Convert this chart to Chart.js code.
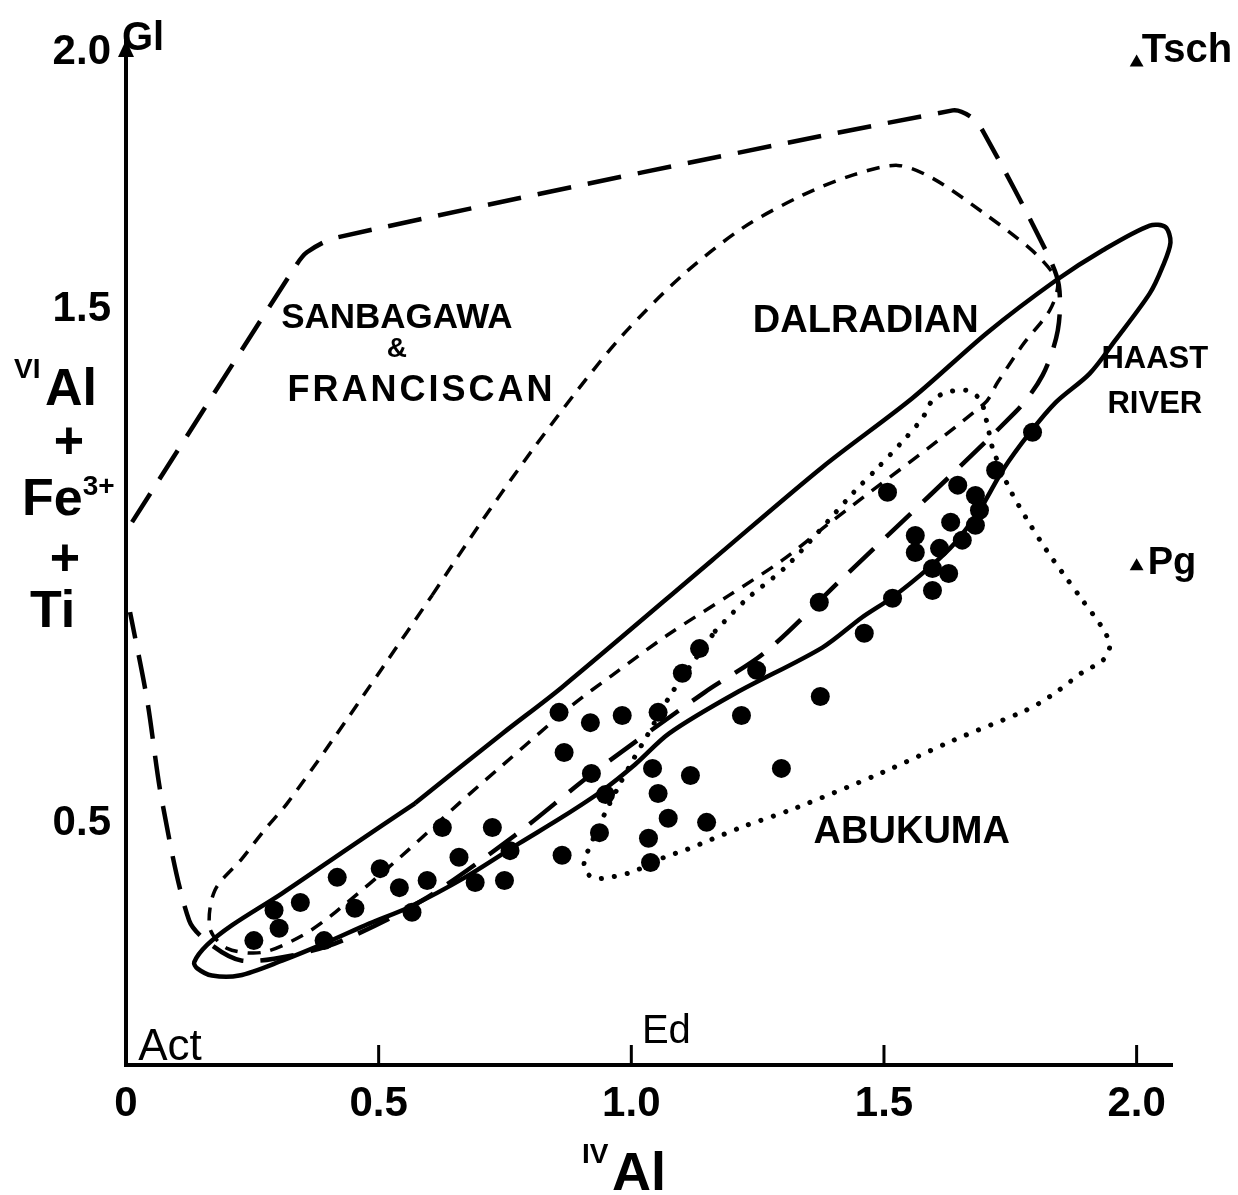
<!DOCTYPE html>
<html>
<head>
<meta charset="utf-8">
<script src="https://cdn.jsdelivr.net/npm/chart.js@4.4.1/dist/chart.umd.min.js"></script>
<style>
  html, body { margin: 0; padding: 0; background: #fff; }
  #wrap { width: 1238px; height: 1195px; }
</style>
</head>
<body>
<div id="wrap"><canvas id="amph" width="1238" height="1195"></canvas></div>
<script>
// IVAl vs VIAl + Fe3+ + Ti in calcic amphiboles, field outlines by terrane

// Haast River schists (solid outline)
const haastRiver = [[0.572,0.539],[0.745,0.675],[0.863,0.765],[1.160,1.012],[1.378,1.193],[1.556,1.327],
  [1.705,1.455],[1.840,1.556],[1.933,1.615],[2.026,1.663],[2.057,1.660],[2.067,1.630],[2.051,1.582],
  [2.026,1.531],[1.958,1.440],[1.907,1.375],[1.840,1.319],[1.788,1.259],[1.735,1.187],[1.689,1.109],
  [1.640,1.045],[1.590,0.998],[1.517,0.940],[1.457,0.901],[1.378,0.842],[1.206,0.753],[1.075,0.675],
  [1.008,0.615],[0.943,0.564],[0.863,0.512],[0.778,0.461],[0.671,0.395],[0.560,0.337],[0.481,0.305],
  [0.394,0.267],[0.309,0.233],[0.224,0.204],[0.170,0.204],[0.141,0.218],[0.135,0.230],[0.160,0.263],
  [0.210,0.302],[0.309,0.364],[0.442,0.453],[0.572,0.539]];

// Sanbagawa & Franciscan (long dashes), open at the vertical axis
const sanbagawa = [[0.012,1.086],[0.333,1.580],[0.358,1.611],[0.418,1.640],[1.636,1.887],[1.671,1.875],
  [1.695,1.848],[1.820,1.615],[1.846,1.547],[1.844,1.459],[1.814,1.372],[1.760,1.300],[1.414,0.973],
  [1.265,0.833],[1.145,0.755],[0.923,0.597],[0.770,0.477],[0.586,0.350],[0.428,0.272],[0.329,0.243],
  [0.230,0.233],[0.170,0.263],[0.125,0.311],[0.071,0.545],[0.042,0.739],[0.008,0.911]];

// Dalradian (short dashes)
const dalradian = [[0.606,0.944],[0.705,1.089],[0.804,1.226],[0.893,1.342],[0.982,1.449],[1.101,1.566],
  [1.220,1.658],[1.339,1.722],[1.438,1.761],[1.527,1.780],[1.596,1.755],[1.695,1.689],[1.788,1.619],
  [1.830,1.576],[1.844,1.547],[1.828,1.498],[1.774,1.430],[1.725,1.358],[1.699,1.317],[1.392,1.084],
  [1.299,1.012],[1.194,0.944],[1.071,0.866],[0.962,0.788],[0.883,0.730],[0.745,0.613],[0.659,0.539],
  [0.547,0.438],[0.414,0.327],[0.349,0.282],[0.269,0.249],[0.200,0.257],[0.166,0.296],[0.176,0.370],
  [0.230,0.432],[0.273,0.486],[0.319,0.539],[0.408,0.661],[0.507,0.802],[0.606,0.944]];

// Abukuma (dotted)
const abukuma = [[1.166,0.874],[1.228,0.936],[1.309,1.002],[1.442,1.146],[1.485,1.189],[1.533,1.239],
  [1.576,1.288],[1.596,1.323],[1.626,1.339],[1.665,1.342],[1.691,1.323],[1.705,1.274],[1.715,1.230],
  [1.747,1.154],[1.782,1.093],[1.822,1.031],[1.853,0.988],[1.893,0.934],[1.933,0.879],[1.947,0.846],
  [1.933,0.817],[1.893,0.794],[1.846,0.759],[1.806,0.733],[1.772,0.716],[1.636,0.661],[1.497,0.599],
  [1.323,0.529],[1.222,0.494],[1.109,0.449],[1.065,0.434],[1.000,0.405],[0.941,0.393],[0.919,0.397],
  [0.907,0.416],[0.909,0.434],[0.947,0.518],[0.976,0.574],[1.006,0.628],[1.028,0.665],[1.081,0.755],
  [1.166,0.874]];

// analysed amphiboles (filled circles)
const samples = [[0.253,0.272],[0.293,0.331],[0.345,0.346],[0.303,0.296],[0.418,0.395],[0.453,0.335],
  [0.503,0.412],[0.541,0.375],[0.596,0.389],[0.566,0.327],[0.392,0.272],[0.626,0.492],[0.725,0.492],
  [0.659,0.434],[0.691,0.385],[0.749,0.389],[0.760,0.447],
  [0.857,0.716],[0.919,0.696],[0.982,0.710],[1.053,0.716],[1.101,0.792],[1.135,0.840],[0.867,0.638],
  [0.921,0.597],[0.949,0.556],[0.937,0.482],[0.863,0.438],[1.042,0.607],[1.053,0.558],[1.073,0.510],
  [1.149,0.502],[1.117,0.593],[1.034,0.471],[1.038,0.424],[1.218,0.710],[1.297,0.607],[1.248,0.798],
  [1.374,0.747],[1.372,0.930],[1.461,0.870],
  [1.517,0.938],[1.507,1.144],[1.562,1.060],[1.562,1.027],[1.610,1.035],[1.596,0.996],[1.628,0.986],
  [1.596,0.953],[1.632,1.086],[1.646,1.158],[1.681,1.138],[1.689,1.109],[1.681,1.080],[1.655,1.051],
  [1.721,1.187],[1.794,1.261]];

// end-member compositions shown as triangles
const triangles = [[2.0,1.98],[2.0,1.0]];

const xTicks = [0, 0.5, 1.0, 1.5, 2.0];
const xMarks = [0.5, 1.0, 1.5, 2.0];
const yTicks = [0.5, 1.5, 2.0];

// name labels (anchor in axis units, left or centred)
const fieldNames = [
  { text: 'SANBAGAWA', x: 0.536, y: 1.463, size: 35 },
  { text: '&', x: 0.536, y: 1.407, size: 28 },
  { text: 'FRANCISCAN', x: 0.585, y: 1.321, size: 36, spacing: '3px' },
  { text: 'DALRADIAN', x: 1.464, y: 1.455, size: 38 },
  { text: 'HAAST', x: 2.036, y: 1.385, size: 31 },
  { text: 'RIVER', x: 2.036, y: 1.298, size: 31 },
  { text: 'ABUKUMA', x: 1.555, y: 0.461, size: 38 }
];
const endMembers = [
  { text: 'Gl', x: -0.008, y: 2.004, size: 40, weight: 'bold' },
  { text: 'Act', x: 0.024, y: 0.039, size: 44, weight: 'normal' },
  { text: 'Ed', x: 1.021, y: 0.072, size: 40, weight: 'normal' },
  { text: 'Tsch', x: 2.010, y: 1.981, size: 40, weight: 'bold' },
  { text: 'Pg', x: 2.022, y: 0.986, size: 38, weight: 'bold' }
];

const FONT = '"Liberation Sans", Arial, sans-serif';
const toXY = pts => pts.map(p => ({ x: p[0], y: p[1] }));

function outline(label, pts, dash, width, cap) {
  return {
    label: label,
    data: toXY(pts),
    showLine: true,
    fill: false,
    borderColor: '#000',
    borderWidth: width,
    borderDash: dash,
    borderCapStyle: cap || 'butt',
    borderJoinStyle: 'round',
    tension: 0.3,
    pointRadius: 0,
    clip: false
  };
}

function put(ctx, text, px, py, size, weight, align) {
  ctx.font = weight + ' ' + size + 'px ' + FONT;
  ctx.textAlign = align || 'left';
  ctx.fillText(text, px, py);
}

const decorations = {
  id: 'decorations',
  afterDraw(chart) {
    const ctx = chart.ctx, a = chart.chartArea;
    const x = chart.scales.x, y = chart.scales.y;
    ctx.save();
    ctx.fillStyle = '#000';
    ctx.strokeStyle = '#000';
    ctx.textBaseline = 'alphabetic';

    // arrow head on top of the vertical axis
    ctx.beginPath();
    ctx.moveTo(a.left, a.top - 2);
    ctx.lineTo(a.left - 8, a.top + 15);
    ctx.lineTo(a.left + 8, a.top + 15);
    ctx.closePath();
    ctx.fill();

    // tick marks point up into the plot
    ctx.lineWidth = 3;
    xMarks.forEach(v => {
      const px = x.getPixelForValue(v);
      ctx.beginPath();
      ctx.moveTo(px, a.bottom);
      ctx.lineTo(px, a.bottom - 20);
      ctx.stroke();
    });

    fieldNames.forEach(n => {
      ctx.letterSpacing = n.spacing || '0px';
      put(ctx, n.text, x.getPixelForValue(n.x), y.getPixelForValue(n.y), n.size, 'bold', 'center');
    });
    ctx.letterSpacing = '0px';
    endMembers.forEach(n => {
      put(ctx, n.text, x.getPixelForValue(n.x), y.getPixelForValue(n.y), n.size, n.weight, 'left');
    });

    // vertical axis title: VIAl + Fe3+ + Ti
    put(ctx, 'VI', 14, 378, 28, 'bold');
    put(ctx, 'Al', 45, 405, 52, 'bold');
    put(ctx, '+', 69, 458, 52, 'bold', 'center');
    put(ctx, 'Fe', 22, 515, 52, 'bold');
    ctx.font = 'bold 52px ' + FONT;
    const feW = ctx.measureText('Fe').width;
    put(ctx, '3+', 22 + feW, 495, 28, 'bold');
    put(ctx, '+', 65, 575, 52, 'bold', 'center');
    put(ctx, 'Ti', 30, 627, 52, 'bold');

    // horizontal axis title: IVAl
    put(ctx, 'IV', 582, 1163, 28, 'bold');
    put(ctx, 'Al', 612, 1190, 54, 'bold');

    ctx.restore();
  }
};

new Chart(document.getElementById('amph'), {
  type: 'scatter',
  data: {
    datasets: [
      outline('Haast River', haastRiver, [], 4.5),
      outline('Sanbagawa & Franciscan', sanbagawa, [34, 17], 4.5),
      outline('Dalradian', dalradian, [13, 10], 3.5),
      outline('Abukuma', abukuma, [0.1, 13], 5, 'round'),
      {
        label: 'amphiboles',
        data: toXY(samples),
        pointRadius: 9.5,
        pointBackgroundColor: '#000',
        pointBorderWidth: 0,
        clip: false
      },
      {
        label: 'end members',
        data: toXY(triangles),
        pointStyle: 'triangle',
        pointRadius: 8,
        pointBackgroundColor: '#000',
        pointBorderWidth: 0,
        clip: false
      }
    ]
  },
  options: {
    responsive: false,
    animation: false,
    events: [],
    layout: { padding: { top: 42, right: 66, bottom: 0, left: 0 } },
    plugins: { legend: { display: false }, tooltip: { enabled: false } },
    scales: {
      x: {
        type: 'linear',
        min: 0,
        max: 2.07,
        afterFit: s => { s.height = 130; },
        afterBuildTicks: s => { s.ticks = xTicks.map(v => ({ value: v })); },
        grid: { display: false, drawTicks: false, tickLength: 0 },
        border: { display: true, color: '#000', width: 4 },
        ticks: {
          color: '#000',
          padding: 14,
          maxRotation: 0,
          autoSkip: false,
          font: { family: FONT, size: 42, weight: 'bold' },
          callback: v => v === 0 ? '0' : v.toFixed(1)
        }
      },
      y: {
        type: 'linear',
        min: 0.03,
        max: 2.02,
        afterFit: s => { s.width = 126; },
        afterBuildTicks: s => { s.ticks = yTicks.map(v => ({ value: v })); },
        grid: { display: false, drawTicks: false, tickLength: 0 },
        border: { display: true, color: '#000', width: 4 },
        ticks: {
          color: '#000',
          padding: 15,
          autoSkip: false,
          font: { family: FONT, size: 42, weight: 'bold' },
          callback: v => v.toFixed(1)
        }
      }
    }
  },
  plugins: [decorations]
});
</script>
</body>
</html>
